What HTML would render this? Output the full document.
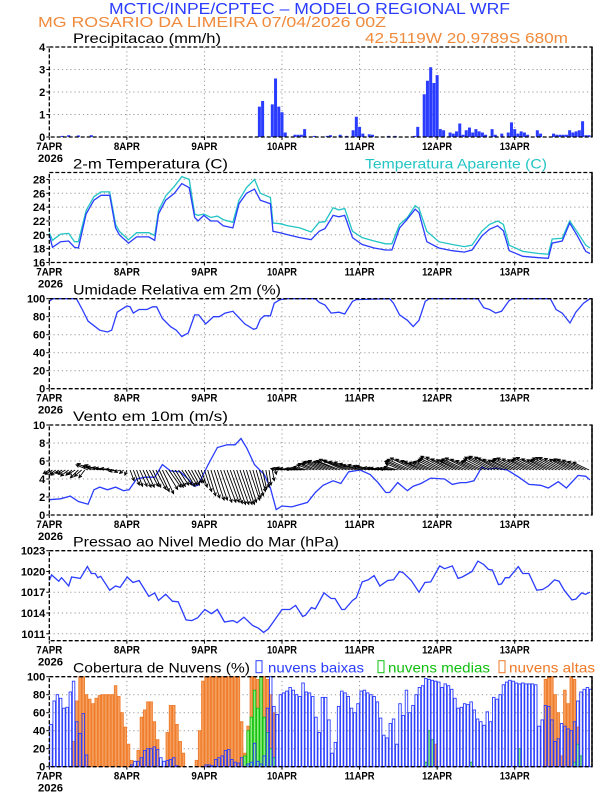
<!DOCTYPE html>
<html><head><meta charset="utf-8"><style>
body{margin:0;background:#fff}
svg{display:block}
text{font-family:"Liberation Sans","DejaVu Sans",sans-serif}
</style></head><body>
<svg id="chart" width="612" height="792" viewBox="0 0 612 792" xmlns="http://www.w3.org/2000/svg">
<text x="109" y="14" font-size="16" fill="#2a3cff" textLength="401" lengthAdjust="spacingAndGlyphs">MCTIC/INPE/CPTEC – MODELO REGIONAL WRF</text>
<text x="38" y="27" font-size="15" fill="#f08a3c" textLength="348" lengthAdjust="spacingAndGlyphs">MG ROSARIO DA LIMEIRA    07/04/2026 00Z</text>
<text x="365" y="43" font-size="15" fill="#f08a3c" textLength="203" lengthAdjust="spacingAndGlyphs">42.5119W 20.9789S 680m</text>
<g id="layer"></g>
</svg>
<script>
// ---- data ----
const dayLabels=["7APR","8APR","9APR","10APR","11APR","12APR","13APR"];
const precipHours=[4,6,9,13,65,66,69,70,71,72,73,76,77,78,79,82,86,87,90,92,94,95,96,97,99,100,105,107,113,114,116,117,118,119,120,121,122,124,125,126,127,128,129,130,131,132,133,134,135,137,138,140,142,143,144,145,146,147,148,151,152,156,157,158,159,160,161,162,163,164,165,166,167];
const precipValues=[0.05,0.08,0.07,0.08,1.35,1.6,1.45,2.6,1.35,1.1,0.2,0.1,0.1,0.1,0.35,0.05,0.05,0.08,0.1,0.05,0.3,0.9,0.45,0.15,0.12,0.1,0.05,0.05,0.05,0.45,1.9,2.5,3.1,2.4,2.75,0.35,0.3,0.2,0.15,0.25,0.6,0.1,0.3,0.42,0.2,0.35,0.25,0.2,0.1,0.35,0.1,0.15,0.2,0.65,0.35,0.15,0.25,0.2,0.1,0.3,0.15,0.15,0.1,0.1,0.1,0.1,0.3,0.2,0.25,0.3,0.7,0.08,0.08];
const precipTicks=[0,1,2,3,4];

const tempHours=[0,1,3.5,6,7.8,9,11.4,13.8,16,18.7,20.5,21.7,24.5,27,30.8,32.6,33.8,36,38.7,41,43.3,45,46,47.8,50,52,53.8,56.8,58.7,61,63.5,65.3,68.4,69.2,71.4,73.8,77.5,81,83.5,85.3,87.8,89.6,91.4,93.8,96.8,100.5,104,106,108.4,110.8,113.2,114.4,116.8,120.5,124.7,128.4,130.8,133.8,136.2,138.7,140.5,142.3,146.5,151.4,154.4,155.6,158.7,161,163.2,166,167.3];
const tempValues=[20,18.2,19,19.1,18.2,18.1,23,25,25.7,25.7,21,20,18.8,19.7,19.7,19.2,23,25,26,27.4,26.8,22.5,22,22.8,22,22,21.3,21,24.5,26,26.6,25,24.5,20.5,20.3,20,19.6,19.3,20.5,20.9,22.8,22.6,22.8,19.6,18.6,18.1,17.8,17.8,21,22.3,23.7,23.2,19,18.1,17.7,17.5,17.8,19.8,20.8,21.3,20.6,17.7,16.9,16.7,16.6,18.8,19.1,21.7,20,17.6,17.3];
const apparentValues=[20.3,19.2,20.1,20.2,19,19,23.5,25.5,26.2,26.2,21.5,20.5,19.3,20.3,20.3,19.9,23.5,25.6,27,28.4,28,23,22.8,23,22.5,22.7,22.2,21.8,25,26.8,28,26,25.4,21.7,21.6,21.3,21,20.4,21.8,21.9,23.9,23.6,23.8,20.5,19.6,19.1,18.7,18.7,21.5,22.5,24.2,23.8,20.5,19,18.6,18.3,18.5,20.5,21.5,22,21.5,18.5,17.6,17.3,17.2,19.4,19.5,22,20.5,18.5,18.1];
const tempTicks=[16,18,20,22,24,26,28];

const rhHours=[0,1,8.4,10.2,12,15.6,18,19.3,21,24,25,26,27.8,30.2,32,33.2,35,37.5,39.3,41,43,45,46.2,48.4,50.8,52.6,54.4,56.8,60.5,63.2,64.1,65.3,66.5,68.4,69.6,71.4,73.8,82.3,83.5,85.3,87.2,89.6,91.4,93.8,95,105.3,106.5,108.4,110.8,112.6,114.4,116.3,117.5,132.6,134.4,136.2,138.1,139.9,142.3,143.5,155,156.8,158.7,161.1,162.9,165.3,167.3];
const rhValues=[97,100,100,88,75,65,63,65,85,92,91,84,88,88,91,91,78,69,65,58,62,82,82,72,80,80,84,86,72,66,67,77,81,81,95,99,100,100,96,93,84,85,83,97,99,100,95,82,76,69,76,97,100,100,90,88,84,86,98,100,100,88,84,73,85,95,100];
const rhTicks=[0,20,40,60,80,100];

const windHours=[0,3.5,6.5,9,12,13.8,15.6,18,20.5,23,24.7,27,29.6,32.6,35,37.5,40.5,43.5,44.7,46,49,52,55,57.5,59.3,61,63.5,66.5,68.4,70.2,72,75,79.9,82.3,84.7,87.8,90.2,92.6,96.2,99.3,101.7,104.1,105.3,107.8,110.8,112.6,115,118,122.3,124.7,127.2,129,131.4,133.8,135.6,138,141.7,145.3,148.4,152,154.4,157.5,160,163.6,166,167.3];
const windSpeed=[1.7,1.8,2.1,1.5,1.2,2.8,3.1,2.8,3.1,2.7,2.8,4,4.2,4.2,5.6,4.9,4.8,3.8,3.2,3.3,5.5,7.5,7.8,7.8,8.5,7.5,5.6,4.5,3,0.6,1,0.9,1.4,2.5,3.3,3.8,3.5,4.8,5,4.5,3.6,2.5,2.5,3.6,2.7,3.2,3.5,4.1,4,3.4,3.6,3.6,3.8,5.3,5.1,5.2,5,4.2,3.4,3.3,3,3.7,3,4.4,4.3,3.9];
const windU=[-1.5,-1.8,-1.5,-2,-1.6,-1.8,-2,-1.5,-1.7,-2,-1.8,-1.5,
-3,-3.5,-3,-3.2,-3.5,-3,-3,-2.5,-2,
-2,-1.5,-1,-0.5,
1,1.5,1.5,1.8,2,2,2.2,
2,2.5,2.5,2.8,3,3,2.8,2.5,2.5,
2.5,2.5,2.2,2,1.8,1.5,
1.5,1.8,2,2.2,2.5,2.5,2.8,3,3,3,3,3,3,2.8,2.5,2.5,2,1.8,
1.5,1,0.8,0.5,0.5,0.2,
-2,-2.5,-2.5,-3,-3,-2.5,-3,-3,-3,-3.5,-3.5,-4,-4,-4.5,
-5,-5,-5.5,-5,-5,-6,-6,-6,-6.5,-6,-5.5,-5,-5,-4.5,-4,-4,
-3,-3,-3,-2.5,-2.5,-3,-3,-3.5,
-4,-5,-5.5,-6,-6,-5.5,-5,-5,-4.5,-4.5,-5,-5,-5.5,-6,-6.5,-6,-5.5,-5,-5,-5.5,-6,-6,-5.5,-5,-4.5,-5,-5.5,-6,-6,-6.5,-6,-6,-5.5,-5,-5,-5.5,-6,-6,-5.5,-5,-5,-5.5,-6,-6,-5.5,-5,-5,-5.5,-6,-6,-6,-5.5,-5,-5,-5.5,-5.5,-5,-4.5,-4];
const windV=[-0.8,-1,-1,-1.2,-0.8,-1,-1.4,-1.2,-1,-1.8,-1.5,-1.8,
1.2,1.5,1,1.2,0.8,0.6,0.5,0.4,0.2,
-0.3,-0.5,-0.8,-1.2,
-2.5,-3.5,-3.8,-3.8,-4,-4,-3.8,
-4,-4.5,-5,-5.5,-4.5,-4,-4,-3.8,-3.5,
-3.5,-3.8,-3.5,-3.5,-3,-3,
-4,-5,-6,-6.5,-7,-7,-7.5,-7.5,-7.5,-7.8,-8,-8,-8,-8,-7.5,-7,-6.5,-6,
-5,-4.5,-4,-3.5,-2.5,-1,
0.3,0.4,0.5,0.5,0.4,0.3,0.3,0.4,0.5,0.8,1.2,1.5,1.5,1.8,
2,2,2.2,2,2,2.2,2.5,2.3,2.2,2,1.8,1.5,1.2,1.2,1,1,
0.6,0.5,0.5,0.4,0.4,0.3,0.5,0.8,
1.5,2,2.2,2.5,2.8,2.5,2.2,2,1.8,1.8,2,2.2,2.5,2.8,3.2,3,2.6,2.4,2.2,2.4,2.6,2.8,2.5,2.2,2,2.2,2.6,3,3,3.2,3,2.8,2.5,2.3,2.2,2.5,2.7,2.8,2.6,2.4,2.3,2.5,2.8,2.9,2.6,2.4,2.3,2.5,2.8,2.9,2.9,2.7,2.5,2.4,2.6,2.5,2.3,2,1.8];
const windTicks=[0,2,4,6,8,10];

const presHours=[0,0.7,2.9,3.8,6,6.9,9.6,11.8,13.0,14.2,15.0,15.9,18.7,20.5,21.9,24.1,25.9,27.8,30.8,32.6,33.8,36,38.1,39.9,42.3,44.1,45.9,48.1,50.2,52,54.2,56.8,58.1,60.2,62.9,64.7,66.3,67.8,69.6,72,74.4,76.2,78.4,79.3,81.1,82.3,85,87.2,88.4,90.5,91.4,93.8,95,96.8,98.7,100.5,102.3,104.7,106.5,108.4,109.6,112,114.4,116.2,118,120.8,122.3,123.5,124.7,126.5,127.8,130.8,132.6,134.4,135.9,137.1,139,139.9,141.1,142.3,145.1,146.5,148.4,150.8,152.6,154.4,156.3,157.7,159.3,161.7,162.9,164.7,165.9,167.3];
const presValues=[1018.7,1019.5,1018.6,1019.1,1017.9,1019.2,1019,1020.7,1019.7,1019.7,1019.1,1019.3,1017.3,1017.9,1017.7,1019.2,1018.4,1018.7,1016.4,1016.9,1015.8,1016.7,1015.7,1015.6,1013,1012.9,1013.3,1014.5,1013.9,1014.5,1012.7,1012.9,1012.6,1013.4,1012.2,1011.8,1011.2,1011.7,1012.9,1014.5,1014.5,1015.1,1013.5,1013.7,1014.8,1014.6,1016.9,1016.1,1016.1,1014.5,1014.5,1015.8,1016.2,1018.5,1018.8,1019.4,1017.9,1018.7,1018.8,1020,1019.8,1018.7,1017,1018.4,1018.5,1020.8,1020.4,1020.6,1020.8,1019,1019.2,1020,1021.5,1021,1020.3,1020.2,1018.1,1018.2,1019.1,1019.1,1020.7,1019.7,1019.7,1017.3,1017.4,1017.9,1018.8,1018.6,1017.3,1015.9,1016,1016.9,1016.7,1017];
const presTicks=[1011,1014,1017,1020,1023];

const cloudLow=[47,73,80,76,65,66,83,95,50,37,59,13,0,0,0,0,0,0,0,0,0,0,0,0,0,2,6,6,10,18,20,20,22,19,10,6,7,8,10,1,0,0,0,0,0,0,0,0,2,2,1,8,10,12,18,19,8,5,4,10,0,3,5,26,6,3,12,65,100,67,58,80,82,84,88,85,80,78,93,83,82,78,55,38,77,77,52,15,27,67,84,82,78,65,60,70,84,85,82,80,78,72,54,35,32,48,53,25,70,57,85,60,68,80,88,90,98,97,96,95,94,88,92,90,86,76,65,66,70,69,72,63,53,50,46,61,50,77,75,80,91,94,96,95,93,92,93,92,92,92,91,45,52,68,67,52,28,31,48,45,42,40,50,73,83,86,88,86];
const cloudMed=[0,0,0,0,0,0,0,0,0,0,0,0,0,0,0,0,0,0,0,0,0,0,0,0,0,0,0,0,0,0,0,0,0,0,0,0,0,0,0,0,0,0,0,0,0,0,0,0,0,0,0,0,0,0,0,0,0,0,0,0,12,40,55,85,65,100,55,38,20,10,0,0,0,0,0,0,0,0,0,0,0,0,0,0,0,0,0,0,0,0,0,0,0,0,0,0,0,0,0,0,0,0,0,0,0,0,0,0,0,0,0,0,0,0,0,0,5,40,30,0,0,0,0,0,0,0,0,0,0,0,5,0,0,0,0,0,0,0,0,0,0,0,0,0,0,20,0,0,0,0,0,0,0,0,0,0,0,0,0,0,0,0,5,25,12,0,0];
const cloudHigh=[0,0,0,0,0,0,0,28,73,100,100,80,75,70,76,79,80,80,80,80,90,78,60,44,25,7,0,18,55,63,72,72,50,30,0,0,38,68,68,47,28,15,0,0,0,7,40,95,100,100,100,100,100,100,100,100,100,100,100,50,15,45,100,100,97,91,100,97,80,60,0,0,0,0,0,0,0,0,0,0,0,0,0,0,0,0,0,0,0,0,0,0,0,0,0,0,0,0,0,0,0,0,0,0,0,0,0,0,0,0,0,0,0,0,0,0,0,0,0,25,0,0,0,0,0,0,0,0,0,0,0,0,0,0,0,0,0,0,0,0,0,0,0,0,0,0,0,0,0,0,0,0,0,97,100,100,80,60,12,85,70,100,97,44,0,0,0,0,0,0];
const cloudTicks=[0,20,40,60,80,100];

// ---- layout ----
const NS="http://www.w3.org/2000/svg";
const layer=document.getElementById('layer');
const X0=49.3,X1=592,HH=3.232;
const xs=h=>X0+h*HH;
function el(tag,attrs,parent){const e=document.createElementNS(NS,tag);for(const k in attrs)e.setAttribute(k,attrs[k]);(parent||layer).appendChild(e);return e;}
function panel(name,top,bot,min,max,ticks,title,titleLen){
  const g=el('g',{});
  
  
  const ys=v=>bot-(v-min)/(max-min)*(bot-top);
  for(let d=1;d<7;d++){const l=el('line',{x1:xs(d*24),x2:xs(d*24),y1:top,y2:bot,stroke:'#999','stroke-dasharray':'1.2,3','stroke-width':1},g);}
  ticks.forEach(t=>{
    if(t!==min&&t!==max){const l=el('line',{x1:X0,x2:X1,y1:ys(t),y2:ys(t),stroke:'#999','stroke-dasharray':'1.2,3','stroke-width':1},g);}
    const tk=el('line',{x1:X0-3,x2:X0,y1:ys(t),y2:ys(t),stroke:'#000'},g);
    const tx=el('text',{x:X0-4,y:ys(t)+4,'font-size':11,'text-anchor':'end',fill:'#000','font-weight':'bold'},g);
    tx.textContent=t;
  });
  dayLabels.forEach((lab,i)=>{
    const tk=el('line',{x1:xs(i*24),x2:xs(i*24),y1:bot,y2:bot+3,stroke:'#000'},g);
    const w=lab.length>4?30:26;
    const t=el('text',{x:xs(i*24)-w/2,y:bot+13,'font-size':11,fill:'#000','font-weight':'bold',textLength:w,lengthAdjust:'spacingAndGlyphs'},g);
    t.textContent=lab;
  });
  const yr=el('text',{x:38,y:bot+25,'font-size':11,fill:'#000','font-weight':'bold',textLength:25,lengthAdjust:'spacingAndGlyphs'},g);
  yr.textContent='2026';
  const ti=el('text',{x:73,y:top-4,'font-size':14,fill:'#000',textLength:titleLen,lengthAdjust:'spacingAndGlyphs'},g);
  ti.textContent=title;
  const plot=el('g',{},g);
  
  const fr=el('rect',{x:X0,y:top,width:X1-X0,height:bot-top,fill:'none',stroke:'#000','stroke-width':1.3,'stroke-dasharray':'4,2'},g);
  
  const rf=el('line',{x1:X1,x2:X1,y1:top,y2:bot,stroke:'#000','stroke-width':1.5},g);
  
  return {g:plot,ys};
}
function line(p,hours,vals,color,name){
  const d=hours.map((h,i)=>(i?'L':'M')+xs(h).toFixed(1)+','+p.ys(vals[i]).toFixed(1)).join('');
  const e=el('path',{d,fill:'none',stroke:color,'stroke-width':1.3},p.g);
  
}
const tops=[47,172.5,298.7,425,550.7,676.7],H=90;

// precip
let p=panel('precip',tops[0],tops[0]+H,0,4,precipTicks,'Precipitacao (mm/h)',148);
precipHours.forEach((h,i)=>{const y=p.ys(precipValues[i]);const r=el('rect',{x:xs(h)-1.5,y,width:3,height:p.ys(0)-y,fill:'#2a3cff'},p.g);});

// temp
p=panel('temperature',tops[1],tops[1]+H,16,29,tempTicks,'2-m Temperatura (C)',155);
line(p,tempHours,apparentValues,'#22c4c4','apparent-temp-line');
line(p,tempHours,tempValues,'#2a3cff','temp-line');
let lg=el('text',{x:365,y:tops[1]-4,'font-size':14,fill:'#22c4c4',textLength:182,lengthAdjust:'spacingAndGlyphs'});
lg.textContent='Temperatura Aparente (C)';

// rh
p=panel('humidity',tops[2],tops[2]+H,0,100,rhTicks,'Umidade Relativa em 2m (%)',208);
line(p,rhHours,rhValues,'#2a3cff','humidity-line');

// wind
p=panel('wind',tops[3],tops[3]+H,0,10,windTicks,'Vento em 10m (m/s)',155);
line(p,windHours,windSpeed,'#2a3cff','wind-speed-line');
windU.forEach((u,i)=>{
  const x0=xs(i),y0=p.ys(5),x1=x0+u*4,y1=y0-windV[i]*4.3;
  const ang=Math.atan2(y1-y0,x1-x0);
  const a1=ang+Math.PI-0.45,a2=ang+Math.PI+0.45;
  const d=`M${x0},${y0}L${x1},${y1}M${x1+3.5*Math.cos(a1)},${y1+3.5*Math.sin(a1)}L${x1},${y1}L${x1+3.5*Math.cos(a2)},${y1+3.5*Math.sin(a2)}`;
  const e=el('path',{d,fill:'none',stroke:'#000','stroke-width':0.9},p.g);
  
});

// pressure
p=panel('pressure',tops[4],tops[4]+H,1010,1023,presTicks,'Pressao ao Nivel Medio do Mar (hPa)',266);
line(p,presHours,presValues,'#2a3cff','pressure-line');

// clouds
p=panel('clouds',tops[5],tops[5]+H,0,100,cloudTicks,'Cobertura de Nuvens (%)',177);
function cbars(vals,fill,stroke,name){vals.forEach((v,i)=>{if(v<=0)return;const y=p.ys(v);const r=el('rect',{x:xs(i)+0.4,y,width:2.5,height:p.ys(0)-y,fill,stroke,'stroke-width':0.9},p.g);});}
cbars(cloudHigh,'#f4a060','#f07a28','high-cloud-bar');
cbars(cloudMed,'#90ee80','#10c010','medium-cloud-bar');
cbars(cloudLow,'none','#2a3cff','low-cloud-bar');
const legends=[['nuvens baixas','#2a3cff',256,268,96],['nuvens medias','#10c010',378,388,102],['nuvens altas','#f07a28',499,509,86]];
legends.forEach(([t,c,sx,tx0,w])=>{
  const b=el('rect',{x:sx,y:tops[5]-16,width:6,height:12,fill:'none',stroke:c,'stroke-width':1});
  
  const tx=el('text',{x:tx0,y:tops[5]-4,'font-size':14,fill:c,textLength:w,lengthAdjust:'spacingAndGlyphs'});
  tx.textContent=t;
});
</script>
</body></html>
